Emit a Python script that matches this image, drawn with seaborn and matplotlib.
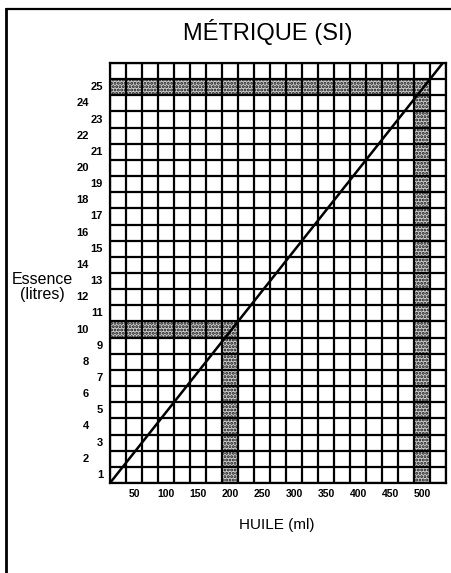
import matplotlib
matplotlib.use("Agg")
import matplotlib.pyplot as plt
import seaborn as sns
from matplotlib.transforms import blended_transform_factory, offset_copy
from matplotlib.lines import Line2D

# ---- data ----
title = "MÉTRIQUE (SI)"
x_label = "HUILE (ml)"
y_label = "Essence\n(litres)"
oil_ticks_ml = [50, 100, 150, 200, 250, 300, 350, 400, 450, 500]
fuel_ticks_l = list(range(1, 26))
cell_ml = 25
grid_max_ml = 525
grid_max_l = 26
highlight_oil_ml = [200, 500]
highlight_fuel_l = [10, 25]
mix_oil_ml = [0, 200, 500, 520]
mix_fuel_l = [0, 10, 25, 26]

sns.set_theme(style="white")
plt.rcParams['font.family'] = ['Liberation Sans', 'DejaVu Sans']
plt.rcParams['text.color'] = 'black'
plt.rcParams['xtick.color'] = 'black'
plt.rcParams['ytick.color'] = 'black'
plt.rcParams['hatch.linewidth'] = 1.4

W, H = 452, 573
fig = plt.figure(figsize=(W / 100, H / 100), dpi=100)
ax = fig.add_axes([110 / W, 1 - 483 / H, 336 / W, 420 / H])
ax.set_xlim(0, grid_max_ml)
ax.set_ylim(0, grid_max_l)

shade = dict(facecolor='#cfcfcf', edgecolor='#111111', linewidth=0, hatch='.....', zorder=1)
for oil, fuel in zip(highlight_oil_ml, highlight_fuel_l):
    ax.barh(fuel - 0.5, oil, height=1, left=0, **shade)
    ax.bar(oil - cell_ml / 2, fuel, width=cell_ml, bottom=0, **shade)

lw = 1.6
ax.vlines(range(0, grid_max_ml + 1, cell_ml), 0, grid_max_l, color='black', lw=lw, zorder=3)
ax.hlines(range(0, grid_max_l + 1), 0, grid_max_ml, color='black', lw=lw, zorder=3)

sns.lineplot(x=mix_oil_ml, y=mix_fuel_l, ax=ax, color='black', lw=1.8, zorder=5)

for s in ax.spines.values():
    s.set_color('black')
    s.set_linewidth(lw)
    s.set_zorder(4)

ax.set_xticks([t - cell_ml / 2 for t in oil_ticks_ml])
ax.set_xticklabels([str(t) for t in oil_ticks_ml], fontsize=7.5, fontweight='bold',
                   color='black')
ax.tick_params(axis='x', length=0, pad=4)
ax.set_yticks([])
ax.set_xlabel('')
ax.set_ylabel('')

trans = blended_transform_factory(ax.transAxes, ax.transData)
for n in fuel_ticks_l:
    dx = 7 if n % 2 == 1 else 21
    t = offset_copy(trans, fig=fig, x=-dx, y=0, units='dots')
    ax.text(0, n - 0.5, str(n), transform=t, ha='right', va='center',
            fontsize=8, fontweight='bold', color='black')

fig.text(268 / W, 1 - 32 / H, title, ha='center', va='center', fontsize=17, color='black')
fig.text(277 / W, 1 - 525 / H, x_label, ha='center', va='center', fontsize=11, color='black')
fig.text(42 / W, 1 - 287 / H, y_label, ha='center', va='center', fontsize=11.5,
         linespacing=1.0, color='black')

fig.add_artist(Line2D([6 / W, 1], [1 - 9 / H, 1 - 9 / H], transform=fig.transFigure,
                      color='black', lw=1.6))
fig.add_artist(Line2D([6 / W, 6 / W], [0, 1 - 9 / H], transform=fig.transFigure,
                      color='black', lw=2.0))

fig.savefig("out.png", dpi=100)
